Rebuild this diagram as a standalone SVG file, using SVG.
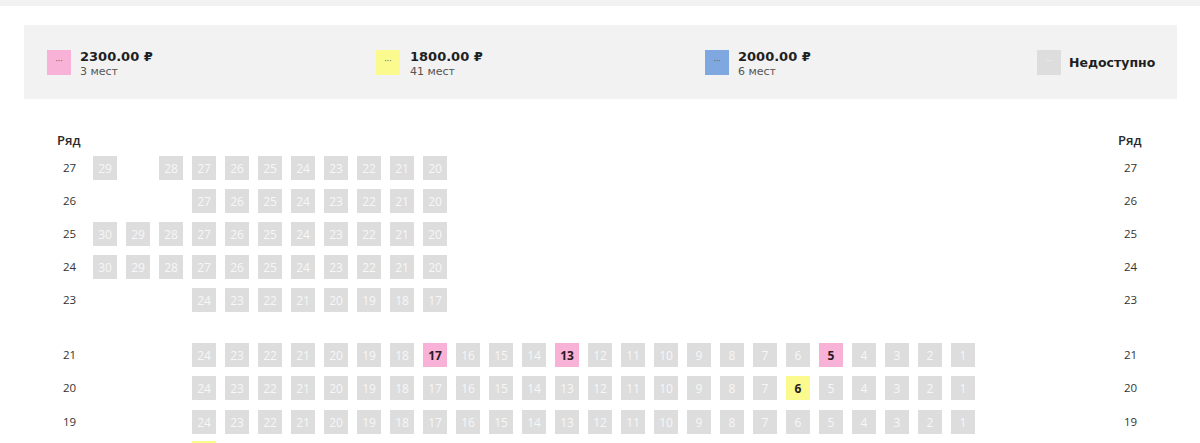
<svg xmlns="http://www.w3.org/2000/svg" width="1200" height="443" viewBox="0 0 1200 443">
<style>
text{font-family:"Open Sans","Noto Sans","DejaVu Sans",sans-serif}
.bg{fill:#ffffff}
.band{fill:#f2f2f2}
.panel{fill:#f2f2f3}
.price{font-family:"DejaVu Sans",sans-serif;font-size:13px;font-weight:700;fill:#1f1f1f}
.na{font-family:"DejaVu Sans",sans-serif;font-size:12.5px;font-weight:700;fill:#1f1f1f}
.cnt{font-family:"DejaVu Sans",sans-serif;font-size:11px;fill:#555}
.dots{font-size:9px;fill:#555;text-anchor:middle}
.dotsl{font-size:9px;fill:#f4f4f4;text-anchor:middle}
.hdr{font-size:13px;font-weight:600;fill:#2a2a2a}
.rl{font-size:11.5px;fill:#333}
.g{fill:#dddddd}
.p{fill:#f8b1d7}
.y{fill:#fafa8e}
.b{fill:#7ea8df}
.sn{font-size:12px;fill:#f7f7f7;text-anchor:middle}
.sa{font-size:12px;font-weight:700;fill:#2a1a22;text-anchor:middle}
</style>
<rect class="bg" x="0" y="0" width="1200" height="443"/>
<rect class="band" x="0" y="0" width="1200" height="6"/>
<g id="legend">
<rect class="panel" x="24" y="25" width="1153" height="74"/>
<g id="legend-pink">
<rect class="p" x="47" y="50" width="24" height="25"/>
<text class="dots" x="59" y="64">···</text>
<text class="price" x="80" y="61">2300.00 ₽</text>
<text class="cnt" x="80" y="75">3 мест</text>
</g>
<g id="legend-yellow">
<rect class="y" x="376" y="50" width="24" height="25"/>
<text class="dots" x="388" y="64">···</text>
<text class="price" x="410" y="61">1800.00 ₽</text>
<text class="cnt" x="410" y="75">41 мест</text>
</g>
<g id="legend-blue">
<rect class="b" x="705" y="50" width="24" height="25"/>
<text class="dots" x="717" y="64">···</text>
<text class="price" x="738" y="61">2000.00 ₽</text>
<text class="cnt" x="738" y="75">6 мест</text>
</g>
<g id="legend-unavailable">
<rect class="g" x="1037" y="50" width="24" height="25"/>
<text class="dotsl" x="1049" y="64">···</text>
<text class="na" x="1069" y="67">Недоступно</text>
</g>
</g>
<g id="row-labels">
<text class="hdr" x="57" y="145">Ряд</text>
<text class="hdr" x="1118" y="145">Ряд</text>
<text class="rl" x="63" y="172">27</text><text class="rl" x="1124" y="172">27</text>
<text class="rl" x="63" y="205">26</text><text class="rl" x="1124" y="205">26</text>
<text class="rl" x="63" y="238">25</text><text class="rl" x="1124" y="238">25</text>
<text class="rl" x="63" y="271">24</text><text class="rl" x="1124" y="271">24</text>
<text class="rl" x="63" y="304">23</text><text class="rl" x="1124" y="304">23</text>
<text class="rl" x="63" y="359">21</text><text class="rl" x="1124" y="359">21</text>
<text class="rl" x="63" y="392">20</text><text class="rl" x="1124" y="392">20</text>
<text class="rl" x="63" y="426">19</text><text class="rl" x="1124" y="426">19</text>
</g>
<g id="row27" transform="translate(0,156)">
<g id="s27-29"><rect class="g" x="93" width="24" height="24"/><text class="sn" x="105" y="16.5">29</text></g>
<g id="s27-28"><rect class="g" x="159" width="24" height="24"/><text class="sn" x="171" y="16.5">28</text></g>
<g id="s27-27"><rect class="g" x="192" width="24" height="24"/><text class="sn" x="204" y="16.5">27</text></g>
<g id="s27-26"><rect class="g" x="225" width="24" height="24"/><text class="sn" x="237" y="16.5">26</text></g>
<g id="s27-25"><rect class="g" x="258" width="24" height="24"/><text class="sn" x="270" y="16.5">25</text></g>
<g id="s27-24"><rect class="g" x="291" width="24" height="24"/><text class="sn" x="303" y="16.5">24</text></g>
<g id="s27-23"><rect class="g" x="324" width="24" height="24"/><text class="sn" x="336" y="16.5">23</text></g>
<g id="s27-22"><rect class="g" x="357" width="24" height="24"/><text class="sn" x="369" y="16.5">22</text></g>
<g id="s27-21"><rect class="g" x="390" width="24" height="24"/><text class="sn" x="402" y="16.5">21</text></g>
<g id="s27-20"><rect class="g" x="423" width="24" height="24"/><text class="sn" x="435" y="16.5">20</text></g>
</g>
<g id="row26" transform="translate(0,189)">
<g id="s26-27"><rect class="g" x="192" width="24" height="24"/><text class="sn" x="204" y="16.5">27</text></g>
<g id="s26-26"><rect class="g" x="225" width="24" height="24"/><text class="sn" x="237" y="16.5">26</text></g>
<g id="s26-25"><rect class="g" x="258" width="24" height="24"/><text class="sn" x="270" y="16.5">25</text></g>
<g id="s26-24"><rect class="g" x="291" width="24" height="24"/><text class="sn" x="303" y="16.5">24</text></g>
<g id="s26-23"><rect class="g" x="324" width="24" height="24"/><text class="sn" x="336" y="16.5">23</text></g>
<g id="s26-22"><rect class="g" x="357" width="24" height="24"/><text class="sn" x="369" y="16.5">22</text></g>
<g id="s26-21"><rect class="g" x="390" width="24" height="24"/><text class="sn" x="402" y="16.5">21</text></g>
<g id="s26-20"><rect class="g" x="423" width="24" height="24"/><text class="sn" x="435" y="16.5">20</text></g>
</g>
<g id="row25" transform="translate(0,222)">
<g id="s25-30"><rect class="g" x="93" width="24" height="24"/><text class="sn" x="105" y="16.5">30</text></g>
<g id="s25-29"><rect class="g" x="126" width="24" height="24"/><text class="sn" x="138" y="16.5">29</text></g>
<g id="s25-28"><rect class="g" x="159" width="24" height="24"/><text class="sn" x="171" y="16.5">28</text></g>
<g id="s25-27"><rect class="g" x="192" width="24" height="24"/><text class="sn" x="204" y="16.5">27</text></g>
<g id="s25-26"><rect class="g" x="225" width="24" height="24"/><text class="sn" x="237" y="16.5">26</text></g>
<g id="s25-25"><rect class="g" x="258" width="24" height="24"/><text class="sn" x="270" y="16.5">25</text></g>
<g id="s25-24"><rect class="g" x="291" width="24" height="24"/><text class="sn" x="303" y="16.5">24</text></g>
<g id="s25-23"><rect class="g" x="324" width="24" height="24"/><text class="sn" x="336" y="16.5">23</text></g>
<g id="s25-22"><rect class="g" x="357" width="24" height="24"/><text class="sn" x="369" y="16.5">22</text></g>
<g id="s25-21"><rect class="g" x="390" width="24" height="24"/><text class="sn" x="402" y="16.5">21</text></g>
<g id="s25-20"><rect class="g" x="423" width="24" height="24"/><text class="sn" x="435" y="16.5">20</text></g>
</g>
<g id="row24" transform="translate(0,255)">
<g id="s24-30"><rect class="g" x="93" width="24" height="24"/><text class="sn" x="105" y="16.5">30</text></g>
<g id="s24-29"><rect class="g" x="126" width="24" height="24"/><text class="sn" x="138" y="16.5">29</text></g>
<g id="s24-28"><rect class="g" x="159" width="24" height="24"/><text class="sn" x="171" y="16.5">28</text></g>
<g id="s24-27"><rect class="g" x="192" width="24" height="24"/><text class="sn" x="204" y="16.5">27</text></g>
<g id="s24-26"><rect class="g" x="225" width="24" height="24"/><text class="sn" x="237" y="16.5">26</text></g>
<g id="s24-25"><rect class="g" x="258" width="24" height="24"/><text class="sn" x="270" y="16.5">25</text></g>
<g id="s24-24"><rect class="g" x="291" width="24" height="24"/><text class="sn" x="303" y="16.5">24</text></g>
<g id="s24-23"><rect class="g" x="324" width="24" height="24"/><text class="sn" x="336" y="16.5">23</text></g>
<g id="s24-22"><rect class="g" x="357" width="24" height="24"/><text class="sn" x="369" y="16.5">22</text></g>
<g id="s24-21"><rect class="g" x="390" width="24" height="24"/><text class="sn" x="402" y="16.5">21</text></g>
<g id="s24-20"><rect class="g" x="423" width="24" height="24"/><text class="sn" x="435" y="16.5">20</text></g>
</g>
<g id="row23" transform="translate(0,288)">
<g id="s23-24"><rect class="g" x="192" width="24" height="24"/><text class="sn" x="204" y="16.5">24</text></g>
<g id="s23-23"><rect class="g" x="225" width="24" height="24"/><text class="sn" x="237" y="16.5">23</text></g>
<g id="s23-22"><rect class="g" x="258" width="24" height="24"/><text class="sn" x="270" y="16.5">22</text></g>
<g id="s23-21"><rect class="g" x="291" width="24" height="24"/><text class="sn" x="303" y="16.5">21</text></g>
<g id="s23-20"><rect class="g" x="324" width="24" height="24"/><text class="sn" x="336" y="16.5">20</text></g>
<g id="s23-19"><rect class="g" x="357" width="24" height="24"/><text class="sn" x="369" y="16.5">19</text></g>
<g id="s23-18"><rect class="g" x="390" width="24" height="24"/><text class="sn" x="402" y="16.5">18</text></g>
<g id="s23-17"><rect class="g" x="423" width="24" height="24"/><text class="sn" x="435" y="16.5">17</text></g>
</g>
<g id="row21" transform="translate(0,343)">
<g id="s21-24"><rect class="g" x="192" width="24" height="24"/><text class="sn" x="204" y="16.5">24</text></g>
<g id="s21-23"><rect class="g" x="225" width="24" height="24"/><text class="sn" x="237" y="16.5">23</text></g>
<g id="s21-22"><rect class="g" x="258" width="24" height="24"/><text class="sn" x="270" y="16.5">22</text></g>
<g id="s21-21"><rect class="g" x="291" width="24" height="24"/><text class="sn" x="303" y="16.5">21</text></g>
<g id="s21-20"><rect class="g" x="324" width="24" height="24"/><text class="sn" x="336" y="16.5">20</text></g>
<g id="s21-19"><rect class="g" x="357" width="24" height="24"/><text class="sn" x="369" y="16.5">19</text></g>
<g id="s21-18"><rect class="g" x="390" width="24" height="24"/><text class="sn" x="402" y="16.5">18</text></g>
<g id="s21-17"><rect class="p" x="423" width="24" height="24"/><text class="sa" x="435" y="16.5">17</text></g>
<g id="s21-16"><rect class="g" x="456" width="24" height="24"/><text class="sn" x="468" y="16.5">16</text></g>
<g id="s21-15"><rect class="g" x="489" width="24" height="24"/><text class="sn" x="501" y="16.5">15</text></g>
<g id="s21-14"><rect class="g" x="522" width="24" height="24"/><text class="sn" x="534" y="16.5">14</text></g>
<g id="s21-13"><rect class="p" x="555" width="24" height="24"/><text class="sa" x="567" y="16.5">13</text></g>
<g id="s21-12"><rect class="g" x="588" width="24" height="24"/><text class="sn" x="600" y="16.5">12</text></g>
<g id="s21-11"><rect class="g" x="621" width="24" height="24"/><text class="sn" x="633" y="16.5">11</text></g>
<g id="s21-10"><rect class="g" x="654" width="24" height="24"/><text class="sn" x="666" y="16.5">10</text></g>
<g id="s21-9"><rect class="g" x="687" width="24" height="24"/><text class="sn" x="699" y="16.5">9</text></g>
<g id="s21-8"><rect class="g" x="720" width="24" height="24"/><text class="sn" x="732" y="16.5">8</text></g>
<g id="s21-7"><rect class="g" x="753" width="24" height="24"/><text class="sn" x="765" y="16.5">7</text></g>
<g id="s21-6"><rect class="g" x="786" width="24" height="24"/><text class="sn" x="798" y="16.5">6</text></g>
<g id="s21-5"><rect class="p" x="819" width="24" height="24"/><text class="sa" x="831" y="16.5">5</text></g>
<g id="s21-4"><rect class="g" x="852" width="24" height="24"/><text class="sn" x="864" y="16.5">4</text></g>
<g id="s21-3"><rect class="g" x="885" width="24" height="24"/><text class="sn" x="897" y="16.5">3</text></g>
<g id="s21-2"><rect class="g" x="918" width="24" height="24"/><text class="sn" x="930" y="16.5">2</text></g>
<g id="s21-1"><rect class="g" x="951" width="24" height="24"/><text class="sn" x="963" y="16.5">1</text></g>
</g>
<g id="row20" transform="translate(0,376)">
<g id="s20-24"><rect class="g" x="192" width="24" height="24"/><text class="sn" x="204" y="16.5">24</text></g>
<g id="s20-23"><rect class="g" x="225" width="24" height="24"/><text class="sn" x="237" y="16.5">23</text></g>
<g id="s20-22"><rect class="g" x="258" width="24" height="24"/><text class="sn" x="270" y="16.5">22</text></g>
<g id="s20-21"><rect class="g" x="291" width="24" height="24"/><text class="sn" x="303" y="16.5">21</text></g>
<g id="s20-20"><rect class="g" x="324" width="24" height="24"/><text class="sn" x="336" y="16.5">20</text></g>
<g id="s20-19"><rect class="g" x="357" width="24" height="24"/><text class="sn" x="369" y="16.5">19</text></g>
<g id="s20-18"><rect class="g" x="390" width="24" height="24"/><text class="sn" x="402" y="16.5">18</text></g>
<g id="s20-17"><rect class="g" x="423" width="24" height="24"/><text class="sn" x="435" y="16.5">17</text></g>
<g id="s20-16"><rect class="g" x="456" width="24" height="24"/><text class="sn" x="468" y="16.5">16</text></g>
<g id="s20-15"><rect class="g" x="489" width="24" height="24"/><text class="sn" x="501" y="16.5">15</text></g>
<g id="s20-14"><rect class="g" x="522" width="24" height="24"/><text class="sn" x="534" y="16.5">14</text></g>
<g id="s20-13"><rect class="g" x="555" width="24" height="24"/><text class="sn" x="567" y="16.5">13</text></g>
<g id="s20-12"><rect class="g" x="588" width="24" height="24"/><text class="sn" x="600" y="16.5">12</text></g>
<g id="s20-11"><rect class="g" x="621" width="24" height="24"/><text class="sn" x="633" y="16.5">11</text></g>
<g id="s20-10"><rect class="g" x="654" width="24" height="24"/><text class="sn" x="666" y="16.5">10</text></g>
<g id="s20-9"><rect class="g" x="687" width="24" height="24"/><text class="sn" x="699" y="16.5">9</text></g>
<g id="s20-8"><rect class="g" x="720" width="24" height="24"/><text class="sn" x="732" y="16.5">8</text></g>
<g id="s20-7"><rect class="g" x="753" width="24" height="24"/><text class="sn" x="765" y="16.5">7</text></g>
<g id="s20-6"><rect class="y" x="786" width="24" height="24"/><text class="sa" x="798" y="16.5">6</text></g>
<g id="s20-5"><rect class="g" x="819" width="24" height="24"/><text class="sn" x="831" y="16.5">5</text></g>
<g id="s20-4"><rect class="g" x="852" width="24" height="24"/><text class="sn" x="864" y="16.5">4</text></g>
<g id="s20-3"><rect class="g" x="885" width="24" height="24"/><text class="sn" x="897" y="16.5">3</text></g>
<g id="s20-2"><rect class="g" x="918" width="24" height="24"/><text class="sn" x="930" y="16.5">2</text></g>
<g id="s20-1"><rect class="g" x="951" width="24" height="24"/><text class="sn" x="963" y="16.5">1</text></g>
</g>
<g id="row19" transform="translate(0,410)">
<g id="s19-24"><rect class="g" x="192" width="24" height="24"/><text class="sn" x="204" y="16.5">24</text></g>
<g id="s19-23"><rect class="g" x="225" width="24" height="24"/><text class="sn" x="237" y="16.5">23</text></g>
<g id="s19-22"><rect class="g" x="258" width="24" height="24"/><text class="sn" x="270" y="16.5">22</text></g>
<g id="s19-21"><rect class="g" x="291" width="24" height="24"/><text class="sn" x="303" y="16.5">21</text></g>
<g id="s19-20"><rect class="g" x="324" width="24" height="24"/><text class="sn" x="336" y="16.5">20</text></g>
<g id="s19-19"><rect class="g" x="357" width="24" height="24"/><text class="sn" x="369" y="16.5">19</text></g>
<g id="s19-18"><rect class="g" x="390" width="24" height="24"/><text class="sn" x="402" y="16.5">18</text></g>
<g id="s19-17"><rect class="g" x="423" width="24" height="24"/><text class="sn" x="435" y="16.5">17</text></g>
<g id="s19-16"><rect class="g" x="456" width="24" height="24"/><text class="sn" x="468" y="16.5">16</text></g>
<g id="s19-15"><rect class="g" x="489" width="24" height="24"/><text class="sn" x="501" y="16.5">15</text></g>
<g id="s19-14"><rect class="g" x="522" width="24" height="24"/><text class="sn" x="534" y="16.5">14</text></g>
<g id="s19-13"><rect class="g" x="555" width="24" height="24"/><text class="sn" x="567" y="16.5">13</text></g>
<g id="s19-12"><rect class="g" x="588" width="24" height="24"/><text class="sn" x="600" y="16.5">12</text></g>
<g id="s19-11"><rect class="g" x="621" width="24" height="24"/><text class="sn" x="633" y="16.5">11</text></g>
<g id="s19-10"><rect class="g" x="654" width="24" height="24"/><text class="sn" x="666" y="16.5">10</text></g>
<g id="s19-9"><rect class="g" x="687" width="24" height="24"/><text class="sn" x="699" y="16.5">9</text></g>
<g id="s19-8"><rect class="g" x="720" width="24" height="24"/><text class="sn" x="732" y="16.5">8</text></g>
<g id="s19-7"><rect class="g" x="753" width="24" height="24"/><text class="sn" x="765" y="16.5">7</text></g>
<g id="s19-6"><rect class="g" x="786" width="24" height="24"/><text class="sn" x="798" y="16.5">6</text></g>
<g id="s19-5"><rect class="g" x="819" width="24" height="24"/><text class="sn" x="831" y="16.5">5</text></g>
<g id="s19-4"><rect class="g" x="852" width="24" height="24"/><text class="sn" x="864" y="16.5">4</text></g>
<g id="s19-3"><rect class="g" x="885" width="24" height="24"/><text class="sn" x="897" y="16.5">3</text></g>
<g id="s19-2"><rect class="g" x="918" width="24" height="24"/><text class="sn" x="930" y="16.5">2</text></g>
<g id="s19-1"><rect class="g" x="951" width="24" height="24"/><text class="sn" x="963" y="16.5">1</text></g>
</g>
<g id="row18" transform="translate(0,441)">
<g id="s18-24"><rect class="y" x="192" width="24" height="24"/></g>
</g>
</svg>
